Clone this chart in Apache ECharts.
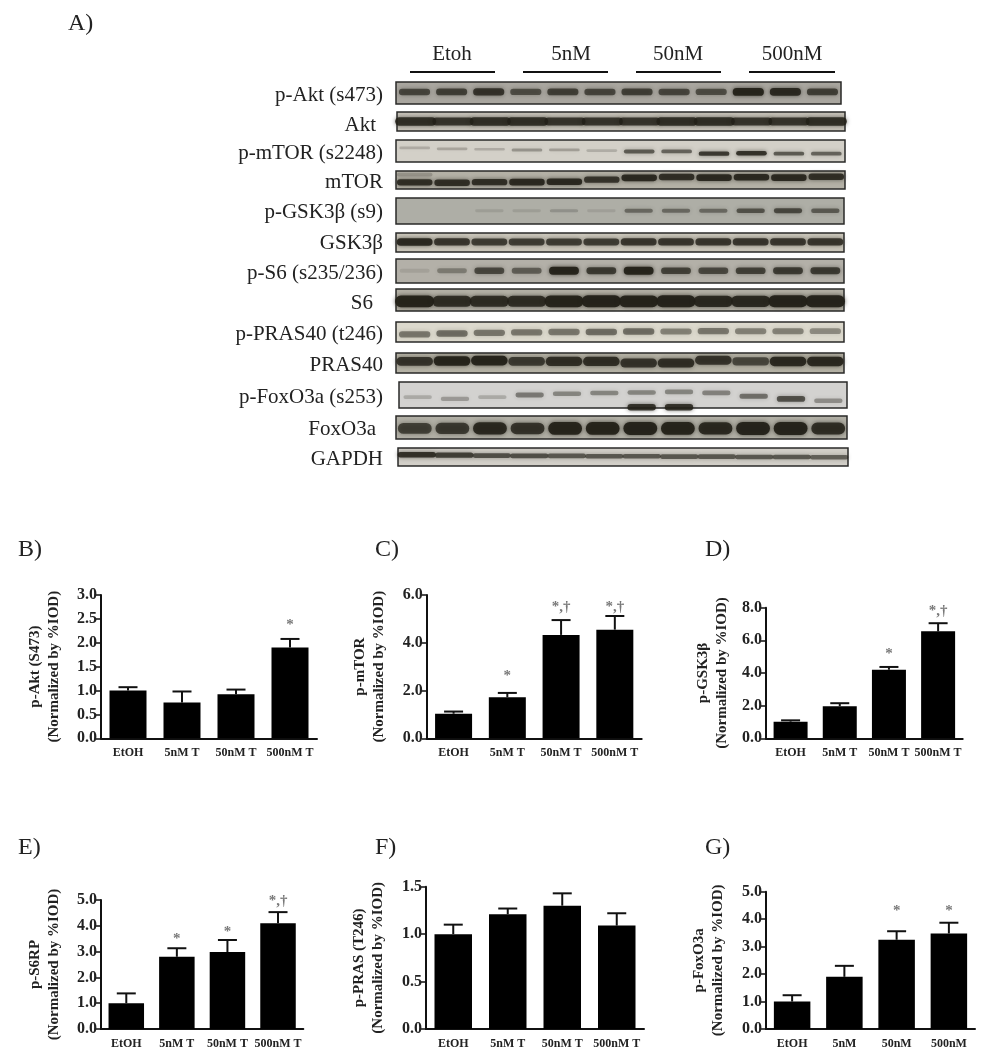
<!DOCTYPE html>
<html>
<head>
<meta charset="utf-8">
<title>Western blot and densitometry</title>
<style>
  html, body { margin: 0; padding: 0; background: #fff; }
  #chart { width: 992px; height: 1050px; filter: blur(0.5px); }
</style>
<script src="https://cdn.jsdelivr.net/npm/echarts@6/dist/echarts.min.js"></script>
</head>
<body>
<div id="chart"></div>
<script>
// band strength per lane, read by eye from the blot (0 = nothing, 1 = darkest)
const blotNames = ['p-Akt (s473)', 'Akt', 'p-mTOR (s2248)', 'mTOR', 'p-GSK3β (s9)', 'GSK3β', 'p-S6 (s235/236)', 'S6', 'p-PRAS40 (t246)', 'PRAS40', 'p-FoxO3a (s253)', 'FoxO3a', 'GAPDH']
const pAkt = [0.65, 0.7, 0.8, 0.6, 0.7, 0.65, 0.7, 0.65, 0.6, 0.95, 0.9, 0.7]
const akt = [0.85, 0.8, 0.85, 0.85, 0.8, 0.8, 0.8, 0.85, 0.85, 0.8, 0.8, 0.85]
const pMtor = [0.15, 0.18, 0.15, 0.28, 0.22, 0.14, 0.6, 0.55, 0.8, 0.85, 0.6, 0.55]
const mtor = [0.85, 0.85, 0.85, 0.9, 0.9, 0.8, 0.9, 0.85, 0.9, 0.9, 0.9, 0.85]
const pGsk = [0, 0, 0.06, 0.06, 0.14, 0.05, 0.42, 0.42, 0.42, 0.58, 0.65, 0.52]
const gsk = [0.9, 0.8, 0.75, 0.75, 0.75, 0.75, 0.8, 0.8, 0.8, 0.8, 0.8, 0.8]
const pS6 = [0.04, 0.3, 0.65, 0.5, 0.95, 0.75, 0.95, 0.7, 0.65, 0.7, 0.75, 0.75]
const s6 = [0.95, 0.85, 0.85, 0.85, 0.95, 1, 0.95, 1, 0.9, 0.9, 1, 1]
const pPras = [0.45, 0.5, 0.45, 0.45, 0.45, 0.5, 0.5, 0.4, 0.45, 0.4, 0.4, 0.35]
const pras = [0.8, 0.95, 0.95, 0.75, 0.85, 0.85, 0.8, 0.85, 0.8, 0.65, 0.9, 0.9]
const pFox = [0.16, 0.25, 0.16, 0.42, 0.36, 0.36, 0.36, 0.36, 0.38, 0.48, 0.65, 0.32]
const fox = [0.7, 0.75, 0.9, 0.8, 0.95, 0.95, 1, 0.95, 0.9, 1, 1, 0.85]
const gapdh = [0.85, 0.75, 0.65, 0.65, 0.6, 0.6, 0.6, 0.6, 0.6, 0.6, 0.6, 0.55]
const blotValues = [pAkt, akt, pMtor, mtor, pGsk, gsk, pS6, s6, pPras, pras, pFox, fox, gapdh]

// second, off-target bands seen on two of the strips
const mtorUpper = [0.15, 0, 0, 0, 0, 0, 0, 0, 0, 0, 0, 0]
const pFoxLower = [0, 0, 0, 0, 0, 0, 0.85, 0.85, 0, 0, 0, 0]

const groupNames = ['Etoh', '5nM', '50nM', '500nM']

// bar panels
const labelsT = ['EtOH', '5nM T', '50nM T', '500nM T']
const labelsPlain = ['EtOH', '5nM', '50nM', '500nM']

const akt473Mean = [1.0, 0.75, 0.92, 1.9]
const akt473Top = [1.07, 0.98, 1.02, 2.08]
const mtorMean = [1.03, 1.72, 4.33, 4.55]
const mtorTop = [1.12, 1.9, 4.95, 5.12]
const gskMean = [1.02, 1.97, 4.2, 6.55]
const gskTop = [1.1, 2.15, 4.37, 7.05]
const s6rpMean = [1.0, 2.8, 2.98, 4.1]
const s6rpTop = [1.38, 3.13, 3.45, 4.53]
const prasMean = [1.0, 1.21, 1.3, 1.09]
const prasTop = [1.1, 1.27, 1.43, 1.22]
const foxMean = [1.0, 1.9, 3.25, 3.48]
const foxTop = [1.23, 2.3, 3.56, 3.87]

// significance marks: text and height on the panel's own y scale
const akt473Sig = [null, null, null, ['*', 2.44]]
const mtorSig = [null, ['*', 2.72], ['*,†', 5.62], ['*,†', 5.62]]
const gskSig = [null, null, ['*', 5.35], ['*,†', 7.96]]
const s6rpSig = [null, ['*', 3.6], ['*', 3.86], ['*,†', 5.09]]
const prasSig = [null, null, null, null]
const foxSig = [null, null, ['*', 4.4], ['*', 4.4]]

const SERIF = '"Liberation Serif", serif'

// strip layout in page pixels; mid = band height inside the strip, 0 top, 1 bottom
const STRIPS = [
  { x: 396, r: 841, y: 82, b: 104, bg: '#a9a69f', w: 0.84, t: 8, mid: [0.45] },
  { x: 397, r: 845, y: 112, b: 131, bg: '#c6c2b8', w: 1.1, t: 9, mid: [0.5] },
  { x: 396, r: 845, y: 140, b: 162, bg: '#d3d0c8', w: 0.82, t: 5, mid: [0.36, 0.4, 0.42, 0.45, 0.45, 0.48, 0.52, 0.52, 0.62, 0.6, 0.62, 0.62] },
  { x: 396, r: 845, y: 171, b: 189, bg: '#b4b1a6', w: 0.95, t: 7, mid: [0.63, 0.65, 0.62, 0.62, 0.6, 0.48, 0.38, 0.33, 0.37, 0.35, 0.37, 0.32] },
  { x: 396, r: 844, y: 198, b: 224, bg: '#aeaea6', w: 0.76, t: 6, mid: [0.49] },
  { x: 396, r: 844, y: 233, b: 252, bg: '#cac6ba', w: 0.96, t: 8, mid: [0.47] },
  { x: 396, r: 844, y: 259, b: 283, bg: '#b3b0a8', w: 0.8, t: 8, mid: [0.49] },
  { x: 396, r: 844, y: 289, b: 311, bg: '#b3b0a5', w: 1.05, t: 12, mid: [0.56] },
  { x: 396, r: 844, y: 322, b: 342, bg: '#dcd9cd', w: 0.84, t: 9, mid: [0.62, 0.58, 0.54, 0.52, 0.5, 0.5, 0.48, 0.48, 0.46, 0.46, 0.46, 0.46] },
  { x: 396, r: 844, y: 353, b: 373, bg: '#b5b2a5', w: 0.98, t: 10, mid: [0.42, 0.4, 0.38, 0.42, 0.42, 0.42, 0.5, 0.5, 0.36, 0.42, 0.42, 0.42] },
  { x: 399, r: 847, y: 382, b: 408, bg: '#d3d2d0', w: 0.76, t: 7, mid: [0.58, 0.65, 0.58, 0.5, 0.45, 0.42, 0.4, 0.38, 0.42, 0.55, 0.65, 0.72] },
  { x: 396, r: 847, y: 416, b: 439, bg: '#b1afa5', w: 0.9, t: 13, mid: [0.54] },
  { x: 398, r: 848, y: 448, b: 466, bg: '#d2cfc8', w: 1.02, t: 6, mid: [0.38, 0.4, 0.42, 0.44, 0.44, 0.46, 0.46, 0.48, 0.48, 0.5, 0.5, 0.52] }
]

// label right edge and nudge for each strip
const LABEL_RIGHT = [383, 376, 383, 383, 383, 383, 383, 373, 383, 383, 383, 376, 383]
const LABEL_DY = [2, 3.5, 2, 2, 1, 1, 2, 3, 2, 2, 2, 2, 2]

const PANELS = [
  { letter: 'B)', lx: 18, ly: 550, x: 101, r: 317, y: 595, b: 738.3, title: 'p-Akt (S473)', labels: labelsT, mean: akt473Mean, top: akt473Top, sig: akt473Sig, max: 3, step: 0.5, bw: 37, gap: 37 },
  { letter: 'C)', lx: 375, ly: 550, x: 426.7, r: 641.7, y: 595, b: 738.3, title: 'p-mTOR', labels: labelsT, mean: mtorMean, top: mtorTop, sig: mtorSig, max: 6, step: 2, bw: 37, gap: 38 },
  { letter: 'D)', lx: 705, ly: 550, x: 766, r: 962.7, y: 607.7, b: 738.3, title: 'p-GSK3β', labels: labelsT, mean: gskMean, top: gskTop, sig: gskSig, max: 8, step: 2, bw: 34, gap: 34 },
  { letter: 'E)', lx: 18, ly: 848, x: 101, r: 303.3, y: 900, b: 1034.3, title: 'p-S6RP', labels: labelsT, mean: s6rpMean, top: s6rpTop, sig: s6rpSig, max: 5, step: 1, bw: 35.5, gap: 37 },
  { letter: 'F)', lx: 375, ly: 848, x: 426, r: 644, y: 886.7, b: 1031, title: 'p-PRAS (T246)', labels: labelsT, mean: prasMean, top: prasTop, sig: prasSig, max: 1.5, step: 0.5, bw: 37.5, gap: 38 },
  { letter: 'G)', lx: 705, ly: 848, x: 766, r: 975, y: 891.7, b: 1030.7, title: 'p-FoxO3a', labels: labelsPlain, mean: foxMean, top: foxTop, sig: foxSig, max: 5, step: 1, bw: 36.5, gap: 38 }
]

const grid = []
const xAxis = []
const yAxis = []
const series = []
const graphic = []

function addText(text, x, y, size, align, weight) {
  graphic.push({
    type: 'text',
    x: x,
    y: y,
    style: { text: text, font: (weight || 'normal') + ' ' + size + 'px ' + SERIF, fill: '#222', align: align, verticalAlign: 'middle' }
  })
}

function bandSeries(i, values, strip, midOf) {
  return {
    type: 'custom',
    xAxisIndex: i,
    yAxisIndex: i,
    silent: true,
    encode: { x: 0, y: 1 },
    data: values.map((v, k) => [k, v]),
    renderItem(params, api) {
      const lane = api.value(0)
      const v = api.value(1)
      if (v <= 0) return null
      const p = api.coord([lane, midOf(lane)])
      const laneW = api.size([1, 0])[0]
      const w = laneW * strip.w
      const h = strip.t * (0.45 + 0.55 * v)
      const alpha = Math.min(0.94, 0.06 + v * 0.92)
      return {
        type: 'rect',
        shape: { x: p[0] - w / 2, y: p[1] - h / 2, width: w, height: h, r: h / 2 },
        style: { fill: 'rgba(34,32,24,' + alpha + ')', shadowBlur: 4, shadowColor: 'rgba(34,32,24,' + alpha * 0.8 + ')' }
      }
    }
  }
}

// blot strips, one small grid each with hidden axes
STRIPS.forEach((s, i) => {
  grid.push({ show: true, left: s.x, top: s.y, width: s.r - s.x, height: s.b - s.y, backgroundColor: s.bg, borderColor: '#2a2a28', borderWidth: 1.5 })
  xAxis.push({ type: 'category', gridIndex: i, show: false, data: blotValues[i].map((v, k) => k) })
  yAxis.push({ type: 'value', gridIndex: i, show: false, min: 0, max: 1, inverse: true })
  series.push(bandSeries(i, blotValues[i], s, lane => (s.mid.length > 1 ? s.mid[lane] : s.mid[0])))
  addText(blotNames[i], LABEL_RIGHT[i], (s.y + s.b) / 2 + LABEL_DY[i], 21, 'right')
})
series.push(bandSeries(3, mtorUpper, STRIPS[3], () => 0.2))
series.push(bandSeries(10, pFoxLower, STRIPS[10], () => 0.97))

// treatment headers and their rules
const HEADER_X = [452, 571, 678, 792]
const RULES = [[410, 495], [523, 608], [636, 721], [749, 835]]
groupNames.forEach((g, i) => {
  addText(g, HEADER_X[i], 54, 21, 'center')
  graphic.push({ type: 'line', shape: { x1: RULES[i][0], y1: 72, x2: RULES[i][1], y2: 72 }, style: { stroke: '#111', lineWidth: 2 } })
})
addText('A)', 68, 24, 24, 'left')

// bar panels
PANELS.forEach((p, n) => {
  const g = STRIPS.length + n
  grid.push({ left: p.x, top: p.y, width: p.r - p.x, height: p.b - p.y })
  xAxis.push({
    type: 'category',
    gridIndex: g,
    data: p.labels,
    axisLine: { lineStyle: { color: '#111', width: 2 } },
    axisTick: { alignWithLabel: true, length: 4, lineStyle: { color: '#111', width: 1.5 } },
    axisLabel: { interval: 0, margin: 9, fontFamily: SERIF, fontWeight: 'bold', fontSize: 12, color: '#222' }
  })
  yAxis.push({
    type: 'value',
    gridIndex: g,
    min: 0,
    max: p.max,
    interval: p.step,
    name: p.title + '\n(Normalized by %IOD)',
    nameLocation: 'middle',
    nameGap: p.gap,
    nameRotate: 90,
    nameTextStyle: { fontFamily: SERIF, fontWeight: 'bold', fontSize: 15, lineHeight: 19, color: '#222' },
    axisLine: { show: true, lineStyle: { color: '#111', width: 2 } },
    axisTick: { show: true, length: 5, lineStyle: { color: '#111', width: 1.5 } },
    splitLine: { show: false },
    axisLabel: { margin: 4, fontFamily: SERIF, fontWeight: 'bold', fontSize: 16, color: '#222', formatter: v => v.toFixed(1) }
  })
  series.push({
    type: 'bar',
    xAxisIndex: g,
    yAxisIndex: g,
    silent: true,
    barWidth: p.bw,
    data: p.mean,
    itemStyle: { color: '#000' }
  })
  // error whiskers, upper side only
  series.push({
    type: 'custom',
    xAxisIndex: g,
    yAxisIndex: g,
    silent: true,
    z: 1,
    encode: { x: 0, y: [1, 2] },
    data: p.mean.map((m, k) => [k, m, p.top[k]]),
    renderItem(params, api) {
      const a = api.coord([api.value(0), api.value(1)])
      const b = api.coord([api.value(0), api.value(2)])
      const hw = 9.5
      return {
        type: 'group',
        children: [
          { type: 'line', shape: { x1: a[0], y1: a[1], x2: b[0], y2: b[1] }, style: { stroke: '#111', lineWidth: 2 } },
          { type: 'line', shape: { x1: b[0] - hw, y1: b[1], x2: b[0] + hw, y2: b[1] }, style: { stroke: '#111', lineWidth: 2 } }
        ]
      }
    }
  })
  // significance marks sit at their own height
  series.push({
    type: 'scatter',
    xAxisIndex: g,
    yAxisIndex: g,
    silent: true,
    clip: false,
    symbolSize: 0,
    data: p.sig.map((s, k) => (s ? { value: [k, s[1]], mark: s[0] } : null)).filter(Boolean),
    label: {
      show: true,
      position: 'inside',
      offset: [0, 3],
      formatter: o => o.data.mark,
      fontFamily: SERIF,
      fontWeight: 'bold',
      fontSize: 15,
      color: '#555'
    }
  })
  addText(p.letter, p.lx, p.ly, 24, 'left')
})

const chart = echarts.init(document.getElementById('chart'))
chart.setOption({
  animation: false,
  backgroundColor: '#fff',
  grid: grid,
  xAxis: xAxis,
  yAxis: yAxis,
  series: series,
  graphic: graphic
})
</script>
</body>
</html>
